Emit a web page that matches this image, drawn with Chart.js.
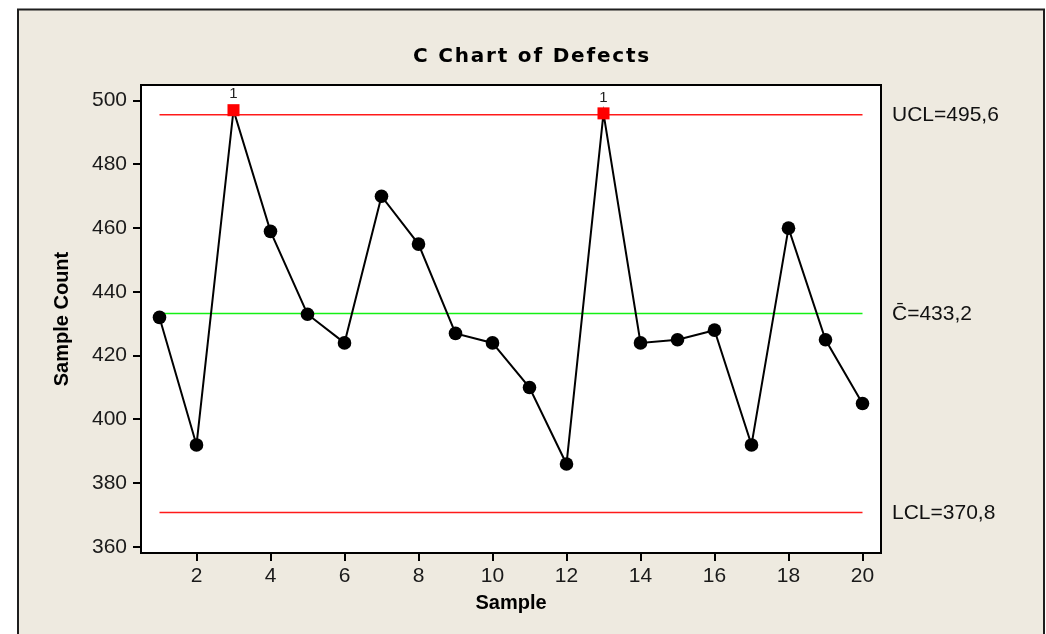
<!DOCTYPE html>
<html>
<head>
<meta charset="utf-8">
<script src="https://cdn.jsdelivr.net/npm/chart.js@4.4.1/dist/chart.umd.min.js"></script>
<style>
  html, body { margin: 0; padding: 0; background: #ffffff; }
  canvas { display: block; }
</style>
</head>
<body>
<canvas id="c" width="1046" height="634"></canvas>
<script>
// ---------- data ----------
const chartTitle = 'C Chart of Defects';
const xAxisTitle = 'Sample';
const yAxisTitle = 'Sample Count';
const samples = [1, 2, 3, 4, 5, 6, 7, 8, 9, 10, 11, 12, 13, 14, 15, 16, 17, 18, 19, 20];
const defects = [432, 392, 497, 459, 433, 424, 470, 455, 427, 424, 410, 386, 496, 424, 425, 428, 392, 460, 425, 405];
const xTickValues = [2, 4, 6, 8, 10, 12, 14, 16, 18, 20];
const yTickValues = [360, 380, 400, 420, 440, 460, 480, 500];
const limitValues = [495.6, 433.2, 370.8];
const limitLabels = ['UCL=495,6', 'C\u0304=433,2', 'LCL=370,8'];
const limitColors = ['#ff1a1a', '#14f014', '#ff1a1a'];
const outLabel = '1';

// ---------- styling ----------
const FONT = "'Liberation Sans', Arial, sans-serif";
const UCL = limitValues[0];
const isOut = defects.map(v => v > UCL);

const limitDatasets = limitValues.map((v, i) => ({
  label: limitLabels[i],
  data: [{ x: samples[0], y: v }, { x: samples[samples.length - 1], y: v }],
  borderColor: limitColors[i],
  borderWidth: 1.5,
  pointRadius: 0,
  fill: false,
  order: 2,
  clip: false
}));

const mainDataset = {
  label: 'Defects',
  data: samples.map((s, i) => ({ x: s, y: defects[i] })),
  borderColor: '#000000',
  borderWidth: 2,
  pointStyle: isOut.map(o => o ? 'rect' : 'circle'),
  pointRadius: isOut.map(o => o ? 8.5 : 6.8),
  pointBackgroundColor: isOut.map(o => o ? '#ff0000' : '#000000'),
  pointBorderColor: isOut.map(o => o ? '#ff0000' : '#000000'),
  pointBorderWidth: 0,
  tension: 0,
  order: 0,
  clip: false
};

const decor = {
  id: 'decor',
  beforeDraw(chart) {
    const ctx = chart.ctx, a = chart.chartArea;
    ctx.save();
    ctx.fillStyle = '#ffffff';
    ctx.fillRect(0, 0, chart.width, chart.height);
    ctx.fillStyle = '#eeeae0';
    ctx.fillRect(18, 9, 1026, 700);
    ctx.strokeStyle = '#1e1e1e';
    ctx.lineWidth = 2;
    ctx.strokeRect(18, 9.5, 1026, 700);
    ctx.fillStyle = '#ffffff';
    ctx.fillRect(a.left, a.top, a.right - a.left, a.bottom - a.top);
    ctx.restore();
  },
  afterDraw(chart) {
    const ctx = chart.ctx, a = chart.chartArea;
    const xs = chart.scales.x, ys = chart.scales.y;
    ctx.save();
    // plot frame
    ctx.strokeStyle = '#000000';
    ctx.lineWidth = 2;
    ctx.strokeRect(a.left, a.top, a.right - a.left, a.bottom - a.top);
    // title
    ctx.fillStyle = '#000000';
    ctx.font = "bold 20px 'DejaVu Sans', Verdana, sans-serif";
    ctx.textAlign = 'center';
    ctx.textBaseline = 'middle';
    try { ctx.letterSpacing = '1.8px'; } catch (e) {}
    ctx.fillText(chartTitle, 532, 57);
    try { ctx.letterSpacing = '0px'; } catch (e) {}
    // control limit labels
    ctx.font = '21px ' + FONT;
    ctx.textAlign = 'left';
    ctx.fillStyle = '#111111';
    limitValues.forEach((v, i) => {
      ctx.fillText(limitLabels[i], a.right + 11, ys.getPixelForValue(v) + 1);
    });
    // out-of-control test labels
    ctx.font = '15px ' + FONT;
    ctx.textAlign = 'center';
    ctx.fillStyle = '#222222';
    samples.forEach((s, i) => {
      if (isOut[i]) {
        ctx.fillText(outLabel, xs.getPixelForValue(s), ys.getPixelForValue(defects[i]) - 16);
      }
    });
    ctx.restore();
  }
};

Chart.defaults.font.family = FONT;

new Chart(document.getElementById('c'), {
  type: 'line',
  data: { datasets: [mainDataset, ...limitDatasets] },
  options: {
    responsive: false,
    animation: false,
    events: [],
    layout: { padding: { left: 0, top: 85, right: 165, bottom: 0 } },
    plugins: { legend: { display: false }, tooltip: { enabled: false }, title: { display: false } },
    scales: {
      x: {
        type: 'linear',
        min: 0.5,
        max: 20.5,
        afterBuildTicks: s => { s.ticks = xTickValues.map(v => ({ value: v })); },
        afterFit: s => { s.height = 81; },
        border: { display: false },
        grid: { display: true, drawOnChartArea: false, drawTicks: true, tickLength: 8, color: '#000000', lineWidth: 2 },
        ticks: { color: '#1a1a1a', font: { size: 21 }, padding: 3, maxRotation: 0 },
        title: { display: true, text: xAxisTitle, color: '#000000', font: { size: 20, weight: 'bold' }, padding: { top: 0, bottom: 19 } }
      },
      y: {
        type: 'linear',
        min: 358.1,
        max: 504.9,
        afterBuildTicks: s => { s.ticks = yTickValues.map(v => ({ value: v })); },
        afterFit: s => { s.width = 141; },
        border: { display: false },
        grid: { display: true, drawOnChartArea: false, drawTicks: true, tickLength: 8, color: '#000000', lineWidth: 2 },
        ticks: { color: '#1a1a1a', font: { size: 21 }, padding: 6 },
        title: { display: true, text: yAxisTitle, color: '#000000', font: { size: 20, weight: 'bold' }, padding: { top: 50, bottom: 0 } }
      }
    }
  },
  plugins: [decor]
});
</script>
</body>
</html>
